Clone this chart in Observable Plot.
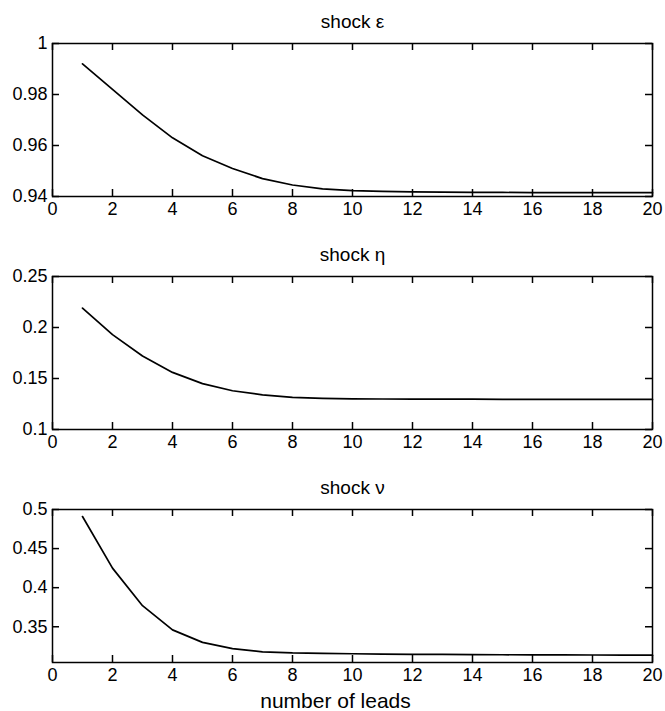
<!DOCTYPE html>
<html>
<head>
<meta charset="utf-8">
<script src="https://cdn.jsdelivr.net/npm/d3@7"></script>
<script src="https://cdn.jsdelivr.net/npm/@observablehq/plot@0.6"></script>
<style>
  html, body { margin: 0; padding: 0; background: #fff; }
  #chart { position: relative; width: 665px; height: 711px; background: #fff; }
  #chart svg { position: absolute; left: 0; overflow: visible; }
</style>
</head>
<body>
<div id="chart"></div>
<script>
// ---- data ----
const leads = [1,2,3,4,5,6,7,8,9,10,11,12,13,14,15,16,17,18,19,20];
const shockEps = [0.992,0.982,0.972,0.963,0.956,0.951,0.947,0.9445,0.943,0.9423,0.942,0.9418,0.9417,0.9416,0.9416,0.9415,0.9415,0.9415,0.9415,0.9415];
const shockEta = [0.219,0.193,0.172,0.156,0.145,0.138,0.134,0.1315,0.1305,0.130,0.1299,0.1298,0.1297,0.1297,0.1296,0.1296,0.1296,0.1295,0.1295,0.1295];
const shockNu  = [0.491,0.425,0.377,0.346,0.330,0.322,0.318,0.3165,0.316,0.3155,0.315,0.3148,0.3146,0.3144,0.3142,0.3141,0.314,0.3139,0.3138,0.3137];
const titles = ["shock \u03b5", "shock \u03b7", "shock \u03bd"];
const xTicks = [0,2,4,6,8,10,12,14,16,18,20];
const yTicks1 = [0.94,0.96,0.98,1];
const yTicks2 = [0.1,0.15,0.2,0.25];
const yTicks3 = [0.35,0.4,0.45,0.5];
const yDomains = [[0.94,1],[0.1,0.25],[0.3043,0.5]];
const xLabel = "number of leads";

// ---- drawing ----
const panels = [
  {title: titles[0], values: shockEps, yTicks: yTicks1, domain: yDomains[0], top: 43},
  {title: titles[1], values: shockEta, yTicks: yTicks2, domain: yDomains[1], top: 276},
  {title: titles[2], values: shockNu,  yTicks: yTicks3, domain: yDomains[2], top: 509}
];
const frameH = 153, mTop = 32, tick = 7;
const frameW = 665 - 52 - 13;
const chart = document.getElementById("chart");
panels.forEach((p, i) => {
  const last = i === panels.length - 1;
  const mBottom = last ? 52 : 26;
  const data = leads.map((x, j) => ({x, y: p.values[j]}));
  const tickStyle = {stroke: "black", strokeWidth: 1.5};
  const marks = [
    // inward ticks on all four sides
    Plot.tickX(xTicks, {x: d => d, insetTop: frameH - tick, ...tickStyle}),
    Plot.tickX(xTicks, {x: d => d, insetBottom: frameH - tick, ...tickStyle}),
    Plot.tickY(p.yTicks, {y: d => d, insetRight: frameW - tick, ...tickStyle}),
    Plot.tickY(p.yTicks, {y: d => d, insetLeft: frameW - tick, ...tickStyle}),
    Plot.line(data, {x: "x", y: "y", stroke: "black", strokeWidth: 1.7}),
    Plot.frame({stroke: "black", strokeWidth: 1.5}),
    Plot.axisX({anchor: "bottom", ticks: xTicks, tickSize: 0, tickPadding: 6, tickFormat: d => String(d), label: null}),
    Plot.axisY({anchor: "left", ticks: p.yTicks, tickSize: 0, tickPadding: 5, tickFormat: d => String(d), label: null}),
    Plot.text([p.title], {frameAnchor: "top", text: d => d, dy: -16, lineAnchor: "bottom", fontSize: 19})
  ];
  if (last) marks.push(Plot.text([xLabel], {frameAnchor: "bottom", text: d => d, dx: -17, dy: 45, lineAnchor: "bottom", fontSize: 21}));
  const svg = Plot.plot({
    width: 665,
    height: mTop + frameH + mBottom,
    marginLeft: 52, marginRight: 13, marginTop: mTop, marginBottom: mBottom,
    style: {fontFamily: "'Liberation Sans', Arial, Helvetica, sans-serif", fontSize: "18px", color: "black", background: "transparent"},
    x: {domain: [0, 20]},
    y: {domain: p.domain},
    marks
  });
  svg.style.top = (p.top - mTop) + "px";
  chart.appendChild(svg);
});
</script>
</body>
</html>
